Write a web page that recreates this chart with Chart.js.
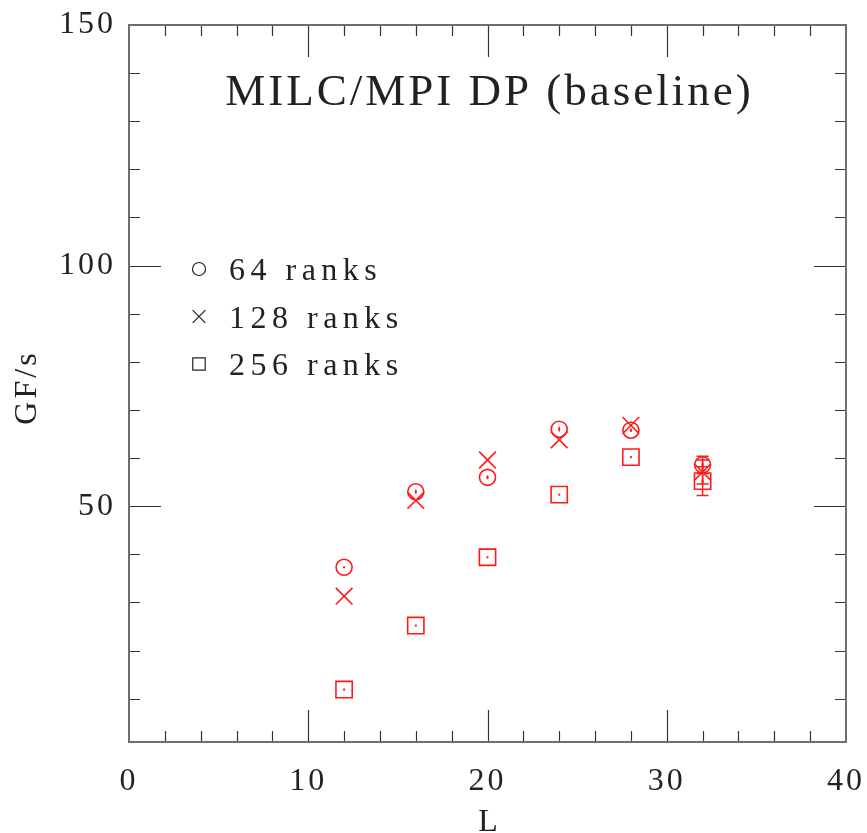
<!DOCTYPE html>
<html>
<head>
<meta charset="utf-8">
<title>MILC/MPI DP (baseline)</title>
<script src="https://cdn.jsdelivr.net/npm/chart.js@4.4.1/dist/chart.umd.min.js"></script>
<style>
  html, body { margin: 0; padding: 0; background: #fff; }
  #wrap { width: 867px; height: 833px; position: relative; }
</style>
</head>
<body>
<div id="wrap"><canvas id="chart"></canvas></div>
<script>
// lattice size L and measured GF/s for each rank count
const latticeL = [12, 16, 20, 24, 28, 32];
const gf64 = [37.3, 53.0, 56.0, 66.0, 65.8, 58.6];
const gf128 = [31.3, 51.2, 59.6, 63.8, 66.8, 57.1];
const gf256 = [11.9, 25.2, 39.4, 52.4, 60.2, 55.2];
const err64 = [0, 0.4, 0.4, 0.5, 0.4, 1.8];
const err128 = [0, 0, 0, 0, 0, 2.5];
const err256 = [0, 0, 0, 0, 0, 3.0];
const seriesNames = ['64 ranks', '128 ranks', '256 ranks'];

// axis ticks
const xLabelTicks = [0, 10, 20, 30, 40];
const xMajorTicks = [10, 20, 30];
const xMinorTicks = [2, 4, 6, 8, 12, 14, 16, 18, 22, 24, 26, 28, 32, 34, 36, 38];
const yLabelTicks = [50, 100, 150];
const yMajorTicks = [50, 100];
const yMinorTicks = [10, 20, 30, 40, 60, 70, 80, 90, 110, 120, 130, 140];

const FONT = '"Liberation Serif", "Times New Roman", serif';
const INK = '#222';
const RED = '#ff1a1a';
const SPACING = '3px';

const toPoints = vals => vals.map((v, i) => ({ x: latticeL[i], y: v }));

// frame + inward ticks on all four sides
const framePlugin = {
  id: 'frame',
  beforeLayout(chart) { chart.ctx.letterSpacing = SPACING; },
  beforeDraw(chart) { chart.ctx.letterSpacing = SPACING; },
  beforeDatasetsDraw(chart) {
    const { ctx, chartArea: a, scales: { x, y } } = chart;
    ctx.save();
    ctx.strokeStyle = '#333';
    ctx.lineWidth = 1.2;
    ctx.beginPath();
    const xt = (vals, len) => vals.forEach(v => {
      const px = Math.round(x.getPixelForValue(v)) + 0.5;
      ctx.moveTo(px, a.bottom); ctx.lineTo(px, a.bottom - len);
      ctx.moveTo(px, a.top); ctx.lineTo(px, a.top + len);
    });
    const yt = (vals, len) => vals.forEach(v => {
      const py = Math.round(y.getPixelForValue(v)) + 0.5;
      ctx.moveTo(a.left, py); ctx.lineTo(a.left + len, py);
      ctx.moveTo(a.right, py); ctx.lineTo(a.right - len, py);
    });
    xt(xMajorTicks, 32); xt(xMinorTicks, 11);
    yt(yMajorTicks, 32); yt(yMinorTicks, 11);
    ctx.stroke();

    ctx.strokeStyle = '#6e6e6e';
    ctx.lineWidth = 2;
    ctx.strokeRect(a.left, a.top, a.right - a.left, a.bottom - a.top);
    ctx.restore();
  },
  afterDatasetsDraw(chart) {
    // error bars and centre dots
    const { ctx, scales: { x, y } } = chart;
    ctx.save();
    ctx.strokeStyle = RED;
    ctx.fillStyle = RED;
    ctx.lineWidth = 1.5;
    chart.data.datasets.forEach(ds => {
      ds.data.forEach((p, j) => {
        const px = x.getPixelForValue(p.x);
        const py = y.getPixelForValue(p.y);
        const e = ds.errors[j];
        if (e > 0) {
          const top = y.getPixelForValue(p.y + e);
          const bot = y.getPixelForValue(p.y - e);
          ctx.beginPath();
          ctx.moveTo(px, top); ctx.lineTo(px, bot);
          if (e > 1) {
            ctx.moveTo(px - 6, top); ctx.lineTo(px + 6, top);
            ctx.moveTo(px - 6, bot); ctx.lineTo(px + 6, bot);
          }
          ctx.stroke();
        }
        if (ds.centreDot) ctx.fillRect(px - 1, py - 1, 2, 2);
      });
    });
    ctx.restore();
  },
  afterDraw(chart) {
    const { ctx, chartArea: a, scales: { x, y } } = chart;
    ctx.save();
    ctx.letterSpacing = SPACING;
    ctx.fillStyle = INK;

    // title inside the frame
    ctx.font = `45px ${FONT}`;
    ctx.textAlign = 'center';
    ctx.textBaseline = 'alphabetic';
    ctx.fillText('MILC/MPI DP (baseline)', x.getPixelForValue(20) + 2, a.top + 80);

    // legend
    ctx.font = `32px ${FONT}`;
    ctx.textAlign = 'left';
    ctx.letterSpacing = '5.5px';
    const lx = a.left + 70;
    chart.data.datasets.forEach((ds, i) => {
      const ly = a.top + 244 + i * 47.5;
      ctx.strokeStyle = INK;
      ctx.fillStyle = 'rgba(0,0,0,0)';
      ctx.lineWidth = 1.2;
      Chart.helpers.drawPoint(ctx, {
        pointStyle: ds.pointStyle,
        radius: ds.legendRadius,
        borderWidth: 1.2,
        rotation: 0
      }, lx, ly);
      ctx.fillStyle = INK;
      ctx.fillText(seriesNames[i], lx + 30, ly + 11);
    });

    // axis titles
    ctx.letterSpacing = SPACING;
    ctx.textAlign = 'center';
    ctx.fillText('L', x.getPixelForValue(20) + 2, 831);
    ctx.translate(36, (a.top + a.bottom) / 2 + 4);
    ctx.rotate(-Math.PI / 2);
    ctx.fillText('GF/s', 0, 0);
    ctx.restore();
  }
};

new Chart(document.getElementById('chart'), {
  type: 'scatter',
  data: {
    datasets: [
      {
        label: seriesNames[0],
        data: toPoints(gf64),
        errors: err64,
        centreDot: true,
        pointStyle: 'circle',
        pointRadius: 8,
        legendRadius: 6.5,
        borderColor: RED,
        backgroundColor: 'rgba(0,0,0,0)',
        pointBorderWidth: 1.6
      },
      {
        label: seriesNames[1],
        data: toPoints(gf128),
        errors: err128,
        centreDot: false,
        pointStyle: 'crossRot',
        pointRadius: 11.8,
        legendRadius: 9,
        borderColor: RED,
        backgroundColor: 'rgba(0,0,0,0)',
        pointBorderWidth: 1.6
      },
      {
        label: seriesNames[2],
        data: toPoints(gf256),
        errors: err256,
        centreDot: true,
        pointStyle: 'rect',
        pointRadius: 11.5,
        legendRadius: 8.8,
        borderColor: RED,
        backgroundColor: 'rgba(0,0,0,0)',
        pointBorderWidth: 1.6
      }
    ]
  },
  options: {
    responsive: true,
    maintainAspectRatio: false,
    animation: false,
    layout: { padding: { top: 25, right: 21, left: 0, bottom: 0 } },
    plugins: {
      legend: { display: false },
      tooltip: { enabled: false }
    },
    scales: {
      x: {
        type: 'linear',
        min: 0,
        max: 40,
        grid: { display: false, drawTicks: false },
        border: { display: false },
        afterBuildTicks: s => { s.ticks = xLabelTicks.map(v => ({ value: v })); },
        afterFit: s => {
          s.height = 91;
          s.paddingLeft = 0;
          s.paddingRight = 0;
        },
        ticks: {
          color: INK,
          padding: 20,
          maxRotation: 0,
          font: { family: FONT, size: 32 }
        }
      },
      y: {
        type: 'linear',
        min: 1,
        max: 150,
        grid: { display: false, drawTicks: false },
        border: { display: false },
        afterBuildTicks: s => { s.ticks = yLabelTicks.map(v => ({ value: v })); },
        afterFit: s => {
          s.width = 129;
          s.paddingTop = 0;
          s.paddingBottom = 0;
        },
        ticks: {
          color: INK,
          padding: 13,
          font: { family: FONT, size: 32 }
        }
      }
    }
  },
  plugins: [framePlugin]
});
</script>
</body>
</html>
